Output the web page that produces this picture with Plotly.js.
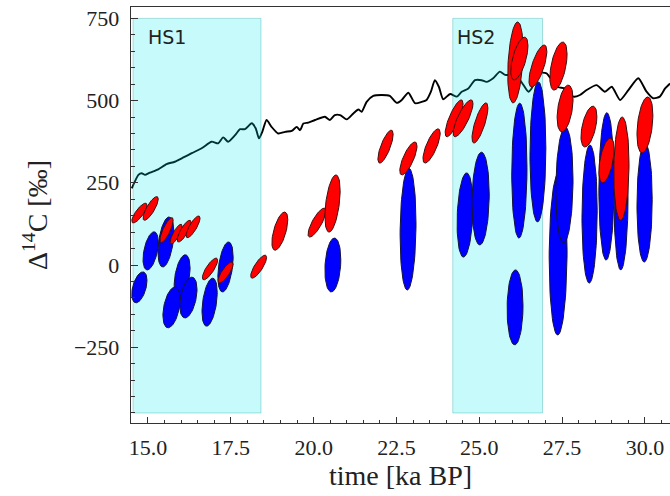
<!DOCTYPE html>
<html>
<head>
<meta charset="utf-8">
<script src="https://cdn.plot.ly/plotly-3.0.1.min.js"></script>
<style>html,body{margin:0;padding:0;background:#fff;}#chart{width:670px;height:496px;}</style>
</head>
<body>
<div id="chart"></div>
<script>
// Black curve (time in ka BP, Δ14C in ‰)
const curveTime = [14.51,14.71,14.81,14.91,15.06,15.31,15.56,15.81,16.07,16.32,16.62,16.92,17.12,17.27,17.42,17.63,17.78,17.93,18.13,18.25,18.35,18.45,18.58,18.73,18.93,19.14,19.34,19.49,19.59,19.69,19.84,20.04,20.34,20.49,20.64,20.80,21.00,21.20,21.35,21.45,21.60,21.80,22.05,22.30,22.51,22.66,22.86,23.06,23.26,23.41,23.54,23.66,23.78,23.91,24.12,24.32,24.47,24.67,24.87,25.07,25.22,25.42,25.62,25.78,25.93,26.23,26.48,26.58,26.78,27.03,27.34,27.59,27.84,28.04,28.24,28.54,28.79,29.00,29.25,29.50,29.80,30.05,30.25,30.45,30.61,30.76];
const curveD14C = [233,274,279,274,281,291,307,314,327,340,355,375,370,388,375,395,413,413,431,416,385,405,441,420,400,405,408,420,410,430,433,441,451,441,456,456,443,461,473,466,496,514,517,514,493,502,524,492,496,502,527,562,542,504,520,512,527,537,562,562,557,568,588,578,578,562,527,537,583,583,542,537,512,517,532,547,527,542,502,532,568,527,507,512,537,552];

// Heinrich stadials
const hsLabels = ["HS1", "HS2"];
const hsLabelT = [14.95, 24.28];
const hsLabelD = 693;
const hsStart = [14.55, 24.20];
const hsEnd = [18.41, 26.91];
const hsBottom = -450;
const hsTop = 750;

// Blue ellipses: centre time, centre Δ14C, half-extent time, half-extent Δ14C, correlation
const blueT   = [14.74,15.08,15.54,16.03,15.71,16.22,16.86,17.34,20.58,22.85,24.57,25.04,26.21,26.77,26.08,27.38,27.57,28.33,28.84,29.28,29.99];
const blueD   = [-68,43,70,-36,-129,-99,-113,-6,0,109,152,202,287,344,-129,33,243,155,239,198,190];
const blueSdT = [0.23,0.23,0.24,0.24,0.26,0.26,0.23,0.23,0.24,0.24,0.24,0.26,0.23,0.24,0.24,0.27,0.26,0.23,0.23,0.21,0.23];
const blueSdD = [47,58,76,67,62,62,73,76,82,185,128,141,205,213,114,246,176,210,224,213,181];
const blueRho = [0.45,0.45,0.4,0.4,0.4,0.4,0.4,0.4,0.2,0.1,0.2,0.1,0.05,0.05,0.05,0.05,0.1,0.05,0.05,0.05,0.05];

// Red ellipses
const redT   = [14.74,15.08,15.56,15.85,16.09,16.36,16.87,17.34,18.34,18.98,20.10,20.57,22.17,22.86,23.56,24.24,24.51,25.02,26.09,26.21,26.77,27.39,27.59,28.31,28.84,29.29,30.00];
const redD   = [158,172,106,94,103,116,-12,-23,-5,103,129,187,360,324,362,446,446,432,616,628,605,605,476,421,318,293,426];
const redSdT = [0.23,0.23,0.2,0.18,0.21,0.21,0.23,0.23,0.24,0.24,0.27,0.23,0.23,0.26,0.26,0.27,0.3,0.24,0.23,0.26,0.27,0.26,0.24,0.24,0.23,0.23,0.24];
const redSdD = [30,36,38,30,33,33,33,32,35,58,44,87,50,50,52,56,56,61,123,65,64,73,71,62,68,157,85];
const redRho = [0.8,0.8,0.8,0.8,0.8,0.8,0.8,0.8,0.8,0.6,0.8,0.45,0.75,0.75,0.75,0.8,0.8,0.75,0.3,0.6,0.7,0.5,0.4,0.5,0.5,0.1,0.35];

const xTickVals = [15, 17.5, 20, 22.5, 25, 27.5, 30];
const yTickVals = [-250, 0, 250, 500, 750];

function ellipse(cx, cy, ax, ay, rho) {
  const xs = [], ys = [];
  const s = Math.sqrt(1 - rho * rho);
  const n = 72;
  for (let i = 0; i <= n; i++) {
    const t = 2 * Math.PI * i / n;
    xs.push(cx + ax * Math.cos(t));
    ys.push(cy + ay * (rho * Math.cos(t) + s * Math.sin(t)));
  }
  return {x: xs, y: ys};
}

const traces = [];
traces.push({
  type: 'scatter', mode: 'lines', x: curveTime, y: curveD14C,
  line: {color: '#000000', width: 1.9, shape: 'spline', smoothing: 0.6},
  hoverinfo: 'skip', showlegend: false
});
for (let i = 0; i < hsStart.length; i++) {
  traces.push({
    type: 'scatter', mode: 'lines',
    x: [hsStart[i], hsEnd[i], hsEnd[i], hsStart[i], hsStart[i]],
    y: [hsBottom, hsBottom, hsTop, hsTop, hsBottom],
    fill: 'toself', fillcolor: 'rgba(0,235,235,0.22)',
    line: {color: 'rgba(0,150,150,0.30)', width: 1},
    hoverinfo: 'skip', showlegend: false
  });
}
for (let i = 0; i < blueT.length; i++) {
  const e = ellipse(blueT[i], blueD[i], blueSdT[i], blueSdD[i], blueRho[i]);
  traces.push({
    type: 'scatter', mode: 'lines', x: e.x, y: e.y, fill: 'toself',
    fillcolor: '#0000ff', line: {color: '#14143a', width: 1},
    hoverinfo: 'skip', showlegend: false
  });
}
for (let i = 0; i < redT.length; i++) {
  const e = ellipse(redT[i], redD[i], redSdT[i], redSdD[i], redRho[i]);
  traces.push({
    type: 'scatter', mode: 'lines', x: e.x, y: e.y, fill: 'toself',
    fillcolor: '#ff0000', line: {color: '#3a1010', width: 1},
    hoverinfo: 'skip', showlegend: false
  });
}

const annotations = hsLabels.map((lab, i) => ({
  x: hsLabelT[i], y: hsLabelD, xref: 'x', yref: 'y', text: lab,
  showarrow: false, xanchor: 'left', yanchor: 'middle',
  font: {family: 'DejaVu Sans', size: 19, color: '#222222'}
}));

const layout = {
  width: 670, height: 496,
  margin: {l: 131, r: 0, t: 7, b: 73, pad: 0},
  paper_bgcolor: '#ffffff', plot_bgcolor: '#ffffff',
  showlegend: false, hovermode: false,
  font: {family: 'Liberation Serif', color: '#222222'},
  xaxis: {
    range: [14.487, 30.757], showgrid: false, zeroline: false,
    showline: true, linecolor: '#333333', linewidth: 1.3, mirror: true,
    tickmode: 'array', tickvals: xTickVals, tickformat: '.1f',
    ticks: 'inside', ticklen: 6, tickwidth: 1, tickcolor: '#333333',
    minor: {dtick: 0.5, tick0: 15, ticks: 'inside', ticklen: 3, tickcolor: '#333333'},
    tickfont: {family: 'Liberation Serif', size: 22, color: '#222222'},
    ticklabelstandoff: 4,
    title: {text: 'time [ka BP]', font: {family: 'Liberation Serif', size: 28, color: '#222222'}, standoff: 6}
  },
  yaxis: {
    range: [-480.5, 784.6], showgrid: false, zeroline: false,
    showline: true, linecolor: '#333333', linewidth: 1.3, mirror: false,
    tickmode: 'array', tickvals: yTickVals,
    ticks: 'inside', ticklen: 7, tickwidth: 1, tickcolor: '#333333',
    minor: {dtick: 50, tick0: 0, ticks: 'inside', ticklen: 4, tickcolor: '#333333'},
    tickfont: {family: 'Liberation Serif', size: 22, color: '#222222'},
    ticklabelstandoff: 6,
    title: {text: 'Δ<sup>14</sup>C [‰]', font: {family: 'Liberation Serif', size: 28, color: '#222222'}, standoff: 18}
  },
  annotations: annotations
};

Plotly.newPlot('chart', traces, layout, {staticPlot: true, displayModeBar: false});
</script>
</body>
</html>
